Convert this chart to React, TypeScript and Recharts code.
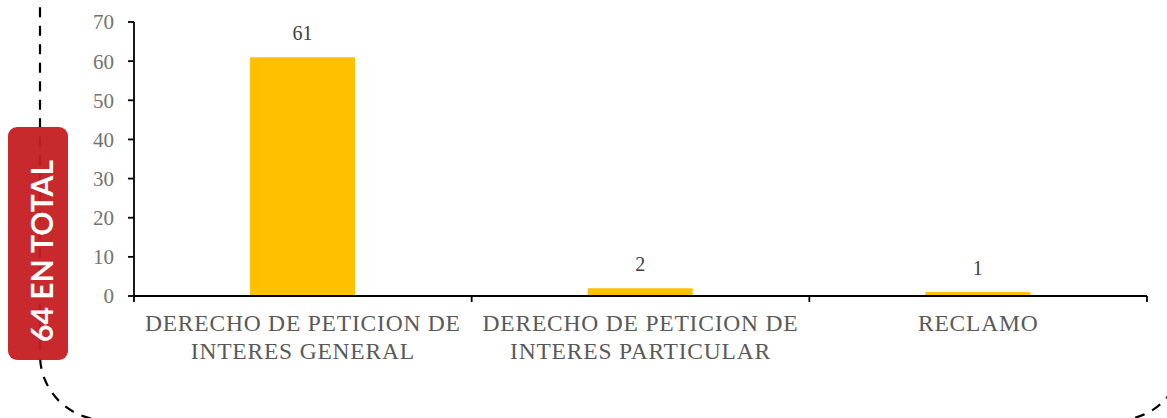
import React from 'react';
import { BarChart, Bar, XAxis, YAxis, LabelList } from 'recharts';

const categories = [
  'DERECHO DE PETICION DE INTERES GENERAL',
  'DERECHO DE PETICION DE INTERES PARTICULAR',
  'RECLAMO',
];
const values = [61, 2, 1];
const yTicks = [0, 10, 20, 30, 40, 50, 60, 70];
const totalLabel = '64 EN TOTAL';

const data = categories.map((c, i) => ({ name: c, value: values[i] }));

const SERIF = '"Liberation Serif", "Times New Roman", serif';
const TICK_SIZE = 6;
const TICK_MARGIN = 4;
const AXIS_W = 1.8;

function wrap(text: string, max = 22): string[] {
  const words = text.split(' ');
  const lines: string[] = [];
  let cur = '';
  for (const w of words) {
    const next = cur ? cur + ' ' + w : w;
    if (next.length > max && cur) {
      lines.push(cur);
      cur = w;
    } else cur = next;
  }
  if (cur) lines.push(cur);
  return lines;
}

const XTick = (props: any) => {
  const { x, y, payload, index } = props;
  const half = payload && payload.offset != null ? payload.offset : 0;
  const axisY = y - TICK_SIZE - TICK_MARGIN;
  const lines = wrap(String(payload.value));
  const isLast = index === categories.length - 1;
  return (
    <g>
      <line x1={x - half} x2={x - half} y1={axisY} y2={axisY + TICK_SIZE} stroke="#000" strokeWidth={AXIS_W} />
      {isLast && (
        <line x1={x + half} x2={x + half} y1={axisY} y2={axisY + TICK_SIZE} stroke="#000" strokeWidth={AXIS_W} />
      )}
      <text x={x} y={y} textAnchor="middle" fill="#595959" fontFamily={SERIF} fontSize={23.5} letterSpacing={0.8}>
        {lines.map((l, i) => (
          <tspan key={i} x={x} dy={i === 0 ? 25 : 27.6}>
            {l}
          </tspan>
        ))}
      </text>
    </g>
  );
};

export default function App() {
  return (
    <div style={{ position: 'absolute', left: 0, top: 0, width: 1167, height: 418, background: '#fff' }}>
      <BarChart
        width={1167}
        height={418}
        data={data}
        margin={{ top: 22, right: 20, left: 0, bottom: 0 }}
        barCategoryGap="34%"
      >
        <XAxis
          dataKey="name"
          interval={0}
          height={122}
          tickLine={false}
          tickSize={TICK_SIZE}
          tickMargin={TICK_MARGIN}
          axisLine={{ stroke: '#000', strokeWidth: AXIS_W }}
          tick={<XTick />}
        />
        <YAxis
          width={134}
          domain={[0, 70]}
          ticks={yTicks}
          interval={0}
          tickSize={TICK_SIZE}
          tickMargin={14}
          axisLine={{ stroke: '#000', strokeWidth: AXIS_W }}
          tickLine={{ stroke: '#000', strokeWidth: AXIS_W }}
          tick={{ fill: '#737373', fontSize: 21, fontFamily: SERIF }}
        />
        <Bar dataKey="value" fill="#ffc000" barSize={105} isAnimationActive={false}>
          <LabelList dataKey="value" position="top" offset={17} fill="#404040" fontSize={20} fontFamily={SERIF} />
        </Bar>
      </BarChart>
      <svg
        width={1167}
        height={418}
        style={{ position: 'absolute', left: 0, top: 0, pointerEvents: 'none' }}
      >
        <rect
          x={40}
          y={-500}
          width={1143}
          height={920}
          rx={65}
          ry={65}
          fill="none"
          stroke="#000"
          strokeWidth={2.2}
          strokeDasharray="10 8.5"
        />
        <rect x={8} y={127} width={60} height={233} rx={9} ry={9} fill="#c41e22" fillOpacity={0.95} />
        <text
          x={42}
          y={262}
          transform="rotate(-90 42 251)"
          textAnchor="middle"
          fill="#fff"
          fontFamily="Lato, 'Open Sans', sans-serif"
          fontWeight={700}
          fontSize={30}
        >
          {totalLabel}
        </text>
      </svg>
    </div>
  );
}
